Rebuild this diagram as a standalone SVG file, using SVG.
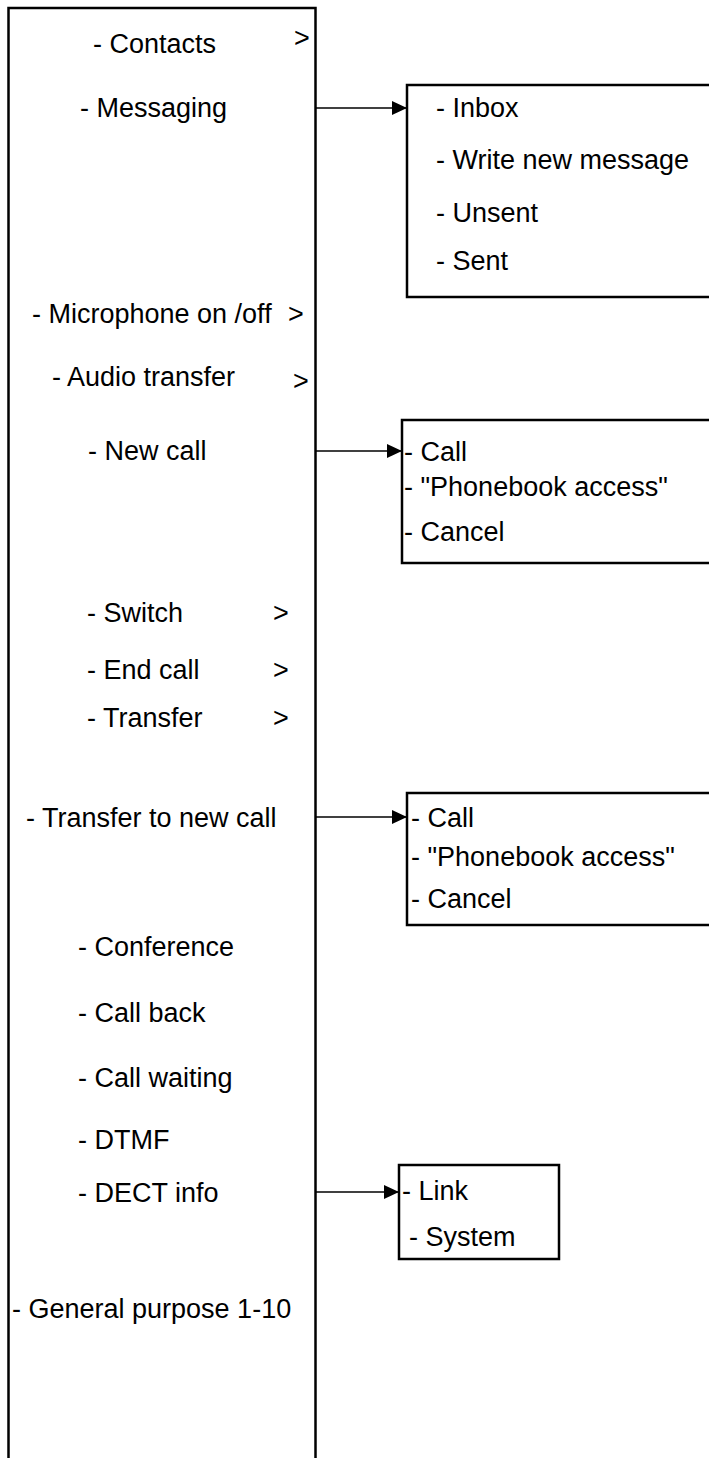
<svg xmlns="http://www.w3.org/2000/svg" width="709" height="1458" viewBox="0 0 709 1458">
<style>
text{font-family:"Liberation Sans",Arial,sans-serif;font-size:27px;fill:#000}
.box{fill:#fff;stroke:#000;stroke-width:2.5}
.conn{stroke:#000;stroke-width:1.3;fill:none}
</style>
<defs>
<marker id="ah" markerWidth="15" markerHeight="14" refX="14" refY="7" orient="auto" markerUnits="userSpaceOnUse">
<path d="M0,0 L15,7 L0,14 Z" fill="#000"/>
</marker>
</defs>
<rect width="709" height="1458" fill="#fff"/>
<g id="main">
<rect class="box" x="8.5" y="8" width="307" height="1470" stroke-width="3"/>
<text x="93" y="53">- Contacts</text><text x="294" y="47">&gt;</text>
<text x="80" y="117">- Messaging</text>
<text x="32" y="323">- Microphone on /off</text><text x="288" y="323">&gt;</text>
<text x="52" y="386">- Audio transfer</text><text x="293" y="390">&gt;</text>
<text x="88" y="460">- New call</text>
<text x="87" y="622">- Switch</text><text x="273" y="622">&gt;</text>
<text x="87" y="679">- End call</text><text x="273" y="679">&gt;</text>
<text x="87" y="727">- Transfer</text><text x="273" y="727">&gt;</text>
<text x="26" y="827">- Transfer to new call</text>
<text x="78" y="956">- Conference</text>
<text x="78" y="1022">- Call back</text>
<text x="78" y="1087">- Call waiting</text>
<text x="78" y="1149">- DTMF</text>
<text x="78" y="1202">- DECT info</text>
<text x="12" y="1318">- General purpose 1-10</text>
</g>
<g id="messaging-menu">
<rect class="box" x="407" y="85" width="320" height="212"/>
<text x="436" y="117">- Inbox</text>
<text x="436" y="169">- Write new message</text>
<text x="436" y="222">- Unsent</text>
<text x="436" y="270">- Sent</text>
</g>
<g id="newcall-menu">
<rect class="box" x="402" y="420" width="320" height="143"/>
<text x="404" y="461">- Call</text>
<text x="404" y="496">- "Phonebook access"</text>
<text x="404" y="541">- Cancel</text>
</g>
<g id="transfer-menu">
<rect class="box" x="407" y="793" width="320" height="132"/>
<text x="411" y="827">- Call</text>
<text x="411" y="866">- "Phonebook access"</text>
<text x="411" y="908">- Cancel</text>
</g>
<g id="dect-menu">
<rect class="box" x="399" y="1165" width="160" height="94"/>
<text x="402" y="1200">- Link</text>
<text x="409" y="1246">- System</text>
</g>
<g id="connectors">
<line class="conn" x1="316" y1="108" x2="406" y2="108" marker-end="url(#ah)"/>
<line class="conn" x1="316" y1="451" x2="401" y2="451" marker-end="url(#ah)"/>
<line class="conn" x1="316" y1="817" x2="406" y2="817" marker-end="url(#ah)"/>
<line class="conn" x1="316" y1="1192" x2="398" y2="1192" marker-end="url(#ah)"/>
</g>
</svg>
